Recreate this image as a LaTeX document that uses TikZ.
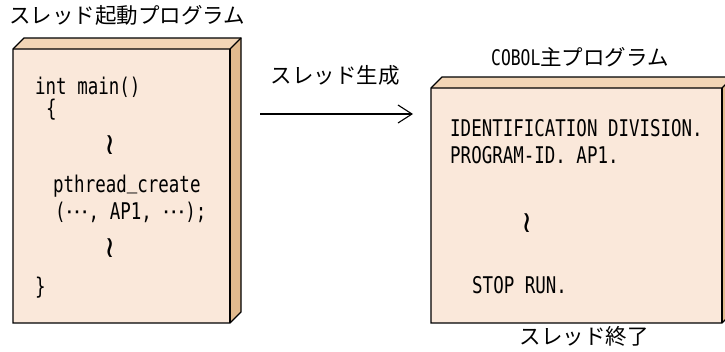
\documentclass[tikz,border=0pt]{standalone}
\usepackage{fontspec}
\usepackage{tikz}
\usetikzlibrary{positioning,arrows.meta}

\newfontfamily\jpfont{Noto Sans CJK JP}
\newfontfamily\codefont[FakeStretch=0.76]{DejaVu Sans Mono}
\newfontfamily\symfont{DejaVu Sans}

\definecolor{slabfront}{RGB}{250,232,218}
\definecolor{slabtop}{RGB}{242,213,182}
\definecolor{slabside}{RGB}{226,186,142}

\tikzset{
  jplabel/.style={font=\jpfont\fontsize{21.5}{24}\selectfont, inner sep=0pt},
  codeline/.style={font=\codefont\fontsize{23}{26}\selectfont, anchor=west, inner sep=0pt},
  waveline/.style={font=\symfont\fontsize{30}{32}\selectfont, inner sep=0pt},
  slabedge/.style={line width=1.3pt, line join=miter}
}

% front face x1,y1,x2,y2 ; depth 11
\newcommand{\slab}[4]{%
  \fill[slabtop] (#1,#2) -- (#1+11,#2-11) -- (#3+11,#2-11) -- (#3,#2) -- cycle;
  \fill[slabside] (#3,#2) -- (#3+11,#2-11) -- (#3+11,#4-11) -- (#3,#4) -- cycle;
  \fill[slabfront] (#1,#2) rectangle (#3,#4);
  \draw[slabedge] (#1,#2) -- (#1+11,#2-11) -- (#3+11,#2-11) -- (#3+11,#4-11) -- (#3,#4) -- (#1,#4) -- cycle;
  \draw[slabedge] (#1,#2) -- (#3,#2) -- (#3+11,#2-11);
  \draw[slabedge] (#3,#2) -- (#3,#4);
}

\begin{document}
\begin{tikzpicture}[x=1pt, y=-1pt]
	\useasboundingbox (0,0) rectangle (725,351);
	
	% thread start program
	\slab{13}{49}{230}{323}
	\node[jplabel] (starttitle) at (127,15) {スレッド起動プログラム};
	
	\node[codeline] (mainhead) at (35,87) {int main()};
	\node[codeline] (mainopen) at (46,110) {\{};
	\node[waveline] (skipa) at (110,145) {≀};
	\node[codeline] (create) at (53,186) {pthread\raisebox{4pt}{\_}create};
	\node[codeline] (createargs) at (55,212) {({\symfont ⋯}, AP1, {\symfont ⋯});};
	\node[waveline] (skipb) at (110,248) {≀};
	\node[codeline] (mainclose) at (35,288) {\}};
	
	% COBOL main program
	\slab{431}{88}{722}{323}
	\node[jplabel] (cobtitle) at (580,57) {{\codefont COBOL}主プログラム};
	
	\node[codeline] (identdiv) at (450,128) {IDENTIFICATION DIVISION.};
	\node[codeline] (progid) at (450,155) {PROGRAM-ID. AP1.};
	\node[waveline] (skipc) at (527,223) {≀};
	\node[codeline] (stoprun) at (472,285) {STOP RUN.};
	
	\node[jplabel] (threadend) at (584,336) {スレッド終了};
	
	% thread creation
	\coordinate (genfrom) at (260,114);
	\coordinate (gento) at (413,114);
	\draw[line width=1.1pt, -{Straight Barb[length=14pt, width=18pt]}] (genfrom) -- (gento);
	\node[jplabel] (gentext) at (335,75) {スレッド生成};
\end{tikzpicture}
\end{document}
